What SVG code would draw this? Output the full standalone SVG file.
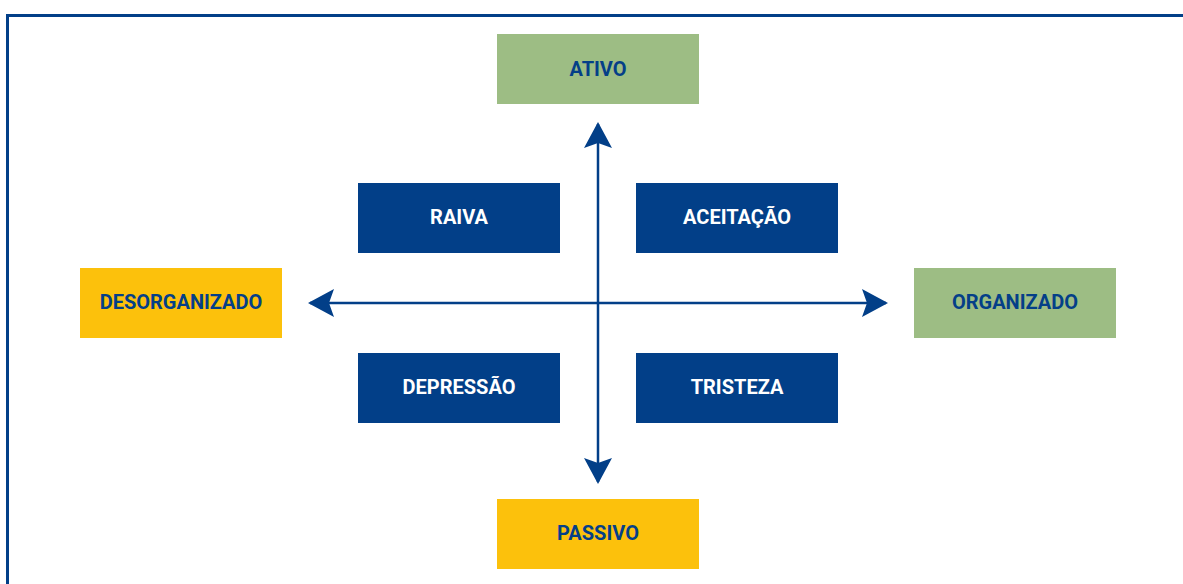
<svg xmlns="http://www.w3.org/2000/svg" width="1183" height="584" viewBox="0 0 1183 584">
<style>
  .box{stroke:none}
  .blue{fill:#023f88}
  .green{fill:#9dbd84}
  .yellow{fill:#fcc10c}
  text{font-family:Roboto,"Liberation Sans",sans-serif;font-weight:700;font-size:20px;text-anchor:middle}
  .lt{fill:#ffffff}
  .dk{fill:#043f88}
  .axis{stroke:#023f88;stroke-width:2.5;fill:none}
</style>
<defs>
  <marker id="ah" viewBox="0 0 26 28" refX="24" refY="14" markerWidth="26" markerHeight="28" markerUnits="userSpaceOnUse" orient="auto-start-reverse">
    <path d="M0,0 L26,14 L0,28 L5,14 Z" fill="#023f88"/>
  </marker>
</defs>
<rect x="0" y="0" width="1183" height="584" fill="#ffffff"/>
<path d="M7.5,584 V15.5 H1183" fill="none" stroke="#023f88" stroke-width="3"/>
<g id="connectors">
  <line class="axis" x1="598" y1="303" x2="598" y2="124" marker-end="url(#ah)"/>
  <line class="axis" x1="598" y1="303" x2="598" y2="482" marker-end="url(#ah)"/>
  <line class="axis" x1="598" y1="303" x2="310" y2="303" marker-end="url(#ah)"/>
  <line class="axis" x1="598" y1="303" x2="886" y2="303" marker-end="url(#ah)"/>
</g>
<g id="ativo"><rect class="box green" x="497" y="34" width="202" height="70"/><text class="dk" x="598" y="76">ATIVO</text></g>
<g id="raiva"><rect class="box blue" x="358" y="183" width="202" height="70"/><text class="lt" x="459" y="224">RAIVA</text></g>
<g id="aceitacao"><rect class="box blue" x="636" y="183" width="202" height="70"/><text class="lt" x="737" y="224">ACEITAÇÃO</text></g>
<g id="desorganizado"><rect class="box yellow" x="80" y="268" width="202" height="70"/><text class="dk" x="181" y="309">DESORGANIZADO</text></g>
<g id="organizado"><rect class="box green" x="914" y="268" width="202" height="70"/><text class="dk" x="1015" y="309">ORGANIZADO</text></g>
<g id="depressao"><rect class="box blue" x="358" y="353" width="202" height="70"/><text class="lt" x="459" y="394">DEPRESSÃO</text></g>
<g id="tristeza"><rect class="box blue" x="636" y="353" width="202" height="70"/><text class="lt" x="737" y="394">TRISTEZA</text></g>
<g id="passivo"><rect class="box yellow" x="497" y="499" width="202" height="70"/><text class="dk" x="598" y="540">PASSIVO</text></g>
</svg>
